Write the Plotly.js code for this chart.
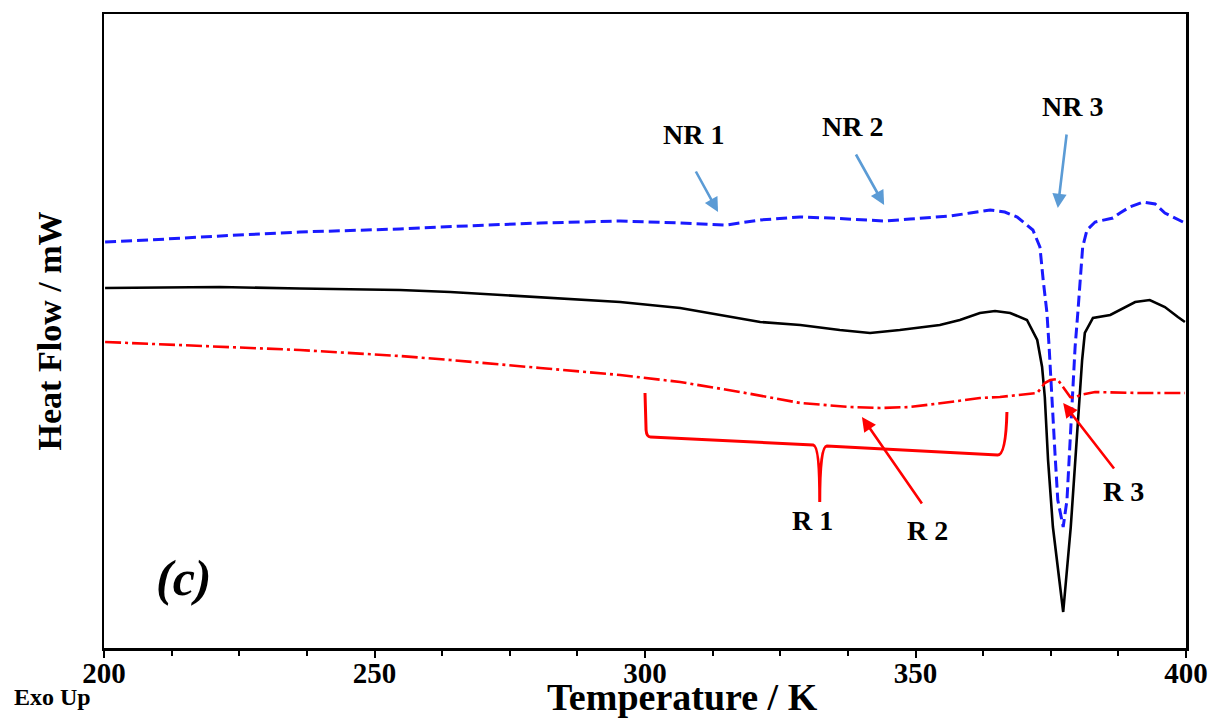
<!DOCTYPE html>
<html>
<head>
<meta charset="utf-8">
<script src="https://cdn.plot.ly/plotly-3.0.1.min.js"></script>
<style>html,body{margin:0;padding:0;background:#fff;}#chart{width:1210px;height:720px;}</style>
</head>
<body>
<div id="chart"></div>
<script>
// Temperature (K) and heat flow (arbitrary units, exo up)
const nrT = [200.2,208.5,217.7,236.2,254.7,262.1,280.6,295.4,306.5,315.0,321.3,328.7,334.2,339.7,344.4,349.0,356.4,360.1,363.8,366.5,368.8,371.7,373.0,373.6,374.3,374.7,375.0,375.8,376.3,377.3,378.0,378.4,378.9,379.5,380.0,380.4,380.9,381.7,383.2,386.5,387.8,389.6,392.1,394.3,396.1,399.8];
const nrHF = [40.6,40.8,41.1,41.6,41.9,42.1,42.5,42.7,42.5,42.3,42.8,43.1,43.0,42.8,42.7,42.9,43.2,43.5,43.8,43.6,43.1,41.8,40.1,36.8,33.5,30.1,26.8,19.3,14.8,12.1,14.8,18.8,23.5,30.1,33.5,36.8,40.1,41.8,42.6,43.0,43.5,44.1,44.6,44.4,43.5,42.5];

const midT = [200.2,221.4,236.2,254.7,264.0,280.6,295.4,306.5,315.7,321.3,328.7,336.0,341.6,347.1,354.5,358.2,361.9,364.7,367.5,370.6,372.5,373.4,373.9,374.5,375.4,377.3,378.7,379.7,380.3,380.8,381.3,382.8,386.0,387.8,390.6,393.3,396.1,398.5,399.8];
const midHF = [36.0,36.1,35.95,35.8,35.6,35.1,34.6,34.0,33.1,32.6,32.3,31.8,31.5,31.8,32.3,32.8,33.5,33.7,33.5,32.8,30.8,28.1,25.1,18.8,12.1,3.6,12.1,19.8,24.8,28.8,31.5,33.0,33.3,33.8,34.6,34.8,34.1,33.1,32.6];

const rT = [200.2,217.7,236.2,254.7,264.0,280.6,295.4,306.5,317.6,328.7,337.9,343.4,349.0,356.4,361.9,365.6,369.3,372.5,373.9,374.9,376.2,377.3,378.6,379.5,380.4,383.2,391.5,399.8];
const rHF = [30.6,30.2,29.8,29.2,28.8,28.0,27.3,26.6,25.6,24.5,24.1,24.0,24.1,24.6,25.0,25.1,25.3,25.5,26.5,26.8,26.9,26.1,25.1,25.0,25.3,25.6,25.5,25.5];

const xTicks = [200, 250, 300, 350, 400];
const xTickLabels = ['200', '250', '300', '350', '400'];

const serif = 'Liberation Serif, Times New Roman, serif';

const traces = [
  {x: nrT, y: nrHF, mode: 'lines', name: 'NR', line: {color: '#1a1aff', width: 3, dash: '11px,5px'}},
  {x: midT, y: midHF, mode: 'lines', name: 'mixed', line: {color: '#000000', width: 2.6}},
  {x: rT, y: rHF, mode: 'lines', name: 'R', line: {color: '#ff0000', width: 2.6, dash: '16px,4px,3px,4px'}}
];

const blueArrow = '#5b9bd5';
function arrow(x, y, ax, ay, color) {
  return {x: x, y: y, xref: 'x', yref: 'y', ax: ax, ay: ay, text: '', showarrow: true,
          arrowhead: 2, arrowsize: 1.1, arrowwidth: 2.6, arrowcolor: color, standoff: 0};
}
function label(x, y, t, size) {
  return {x: x, y: y, xref: 'x', yref: 'y', text: '<b>' + t + '</b>', showarrow: false,
          font: {family: serif, size: size || 28, color: '#000'}, xanchor: 'center', yanchor: 'middle'};
}

const annotations = [
  arrow(313.5, 43.6, -23, -42, blueArrow),
  arrow(344.2, 44.3, -29, -52, blueArrow),
  arrow(376.3, 44.0, 9, -75, blueArrow),
  arrow(340.1, 23.1, 61, 88, '#ff0000'),
  arrow(377.3, 24.5, 52, 67, '#ff0000'),
  label(308.9, 51.4, 'NR 1'),
  label(338.4, 52.2, 'NR 2'),
  label(379.1, 54.2, 'NR 3'),
  label(330.9, 12.8, 'R 1'),
  label(352.3, 11.8, 'R 2'),
  label(388.5, 15.7, 'R 3'),
  {x: 214.8, y: 7.0, xref: 'x', yref: 'y', text: '<b><i>(c)</i></b>', showarrow: false,
   font: {family: serif, size: 50, color: '#000'}, xanchor: 'center', yanchor: 'middle'},
  {x: -0.048, y: -0.077, xref: 'paper', yref: 'paper', text: '<b>Exo Up</b>', showarrow: false,
   font: {family: serif, size: 24, color: '#000'}, xanchor: 'center', yanchor: 'middle'},
  {x: 0.535, y: -0.0775, xref: 'paper', yref: 'paper', text: '<b>Temperature / K</b>', showarrow: false,
   font: {family: serif, size: 38, color: '#000'}, xanchor: 'center', yanchor: 'middle'}
];

const shapes = [
  {type: 'path', xref: 'x', yref: 'y',
   path: 'M300,25.5 L300.2,21.8 Q300.3,21.1 301,21.1 L331.1,20.3 Q332.3,20.2 332.3,14.6 Q332.3,20.2 333.6,20.2 L365.2,19.3 Q366.7,19.3 366.9,23.6',
   line: {color: '#ff0000', width: 3}}
];

const layout = {
  width: 1210, height: 720,
  margin: {l: 104, r: 24, t: 14, b: 72},
  paper_bgcolor: '#fff', plot_bgcolor: '#fff',
  showlegend: false,
  xaxis: {
    range: [200, 400], tickmode: 'array', tickvals: xTicks,
    ticktext: xTickLabels.map(function (s) { return '<b>' + s + '</b>'; }),
    ticks: 'outside', ticklen: 7, tickwidth: 2, tickcolor: '#000', ticklabelstandoff: -9,
    minor: {dtick: 12.5, tick0: 200, ticks: 'outside', ticklen: 5, tickwidth: 2, tickcolor: '#000'},
    showline: true, linewidth: 2.5, linecolor: '#000', mirror: true,
    showgrid: false, zeroline: false,
    tickfont: {family: serif, size: 29, color: '#000'}
  },
  yaxis: {
    range: [0, 63.4], showticklabels: false, ticks: '',
    showline: true, linewidth: 2.5, linecolor: '#000', mirror: true,
    showgrid: false, zeroline: false,
    title: {text: '<b>Heat Flow / mW</b>', font: {family: serif, size: 34, color: '#000'}, standoff: 30}
  },
  annotations: annotations,
  shapes: shapes
};

Plotly.newPlot('chart', traces, layout, {displayModeBar: false, staticPlot: true});
</script>
</body>
</html>
